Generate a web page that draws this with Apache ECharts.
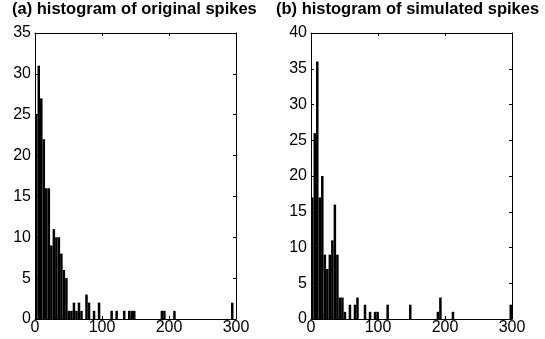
<!DOCTYPE html>
<html>
<head>
<meta charset="utf-8">
<script src="https://cdn.jsdelivr.net/npm/echarts@6/dist/echarts.min.js"></script>
<style>
html,body{margin:0;padding:0;background:#fff;}
#c{width:545px;height:339px;}
</style>
</head>
<body>
<div id="c"></div>
<script>
// ---- data ----
const BIN_WIDTH = 3.75; // histogram bin width (spike interval units)
const titles = ['(a) histogram of original spikes', '(b) histogram of simulated spikes'];
const xTicks = [0, 100, 200, 300];
const yMaxOriginal = 35;
const yMaxSimulated = 40;
const countsOriginal = [
  25,31,27,22,16,16,9,11,10,10,
  8,6,5,1,1,2,1,2,1,0,
  3,2,0,1,0,2,0,0,0,0,
  1,0,1,0,0,1,0,1,1,1,
  0,0,0,0,0,0,0,0,0,0,
  1,1,0,0,0,1,0,0,0,0,
  0,0,0,0,0,0,0,0,0,0,
  0,0,0,0,0,0,0,0,2,0
];
const countsSimulated = [
  17,26,36,17,20,9,7,9,11,16,
  9,3,3,1,0,2,0,2,3,0,
  0,2,0,1,0,1,1,0,0,0,
  2,0,0,0,0,0,0,0,0,2,
  0,0,0,0,0,0,0,0,0,0,
  1,3,0,0,0,0,1,0,0,0,
  0,0,0,0,0,0,0,0,0,0,
  0,0,0,0,0,0,0,0,0,2
];

function toBins(counts){
  const out = [];
  counts.forEach((c, i) => { if (c > 0) out.push([i * BIN_WIDTH, (i + 1) * BIN_WIDTH, c]); });
  return out;
}

function renderBar(params, api){
  const p0 = api.coord([api.value(0), api.value(2)]);
  const p1 = api.coord([api.value(1), 0]);
  return {
    type: 'rect',
    shape: { x: p0[0], y: p0[1], width: p1[0] - p0[0], height: p1[1] - p0[1] },
    style: { fill: '#000' }
  };
}

const FONT = 'Liberation Sans, Arial, sans-serif';
const axisLine = { show: true, onZero: false, lineStyle: { color: '#000', width: 1 } };
const tick = { show: true, inside: true, length: 3, lineStyle: { color: '#000' } };
const lbl = { color: '#000', fontSize: 16, fontFamily: FONT };

const grids = [
  { left: 35, top: 33, width: 201, height: 286 },
  { left: 311, top: 33, width: 201, height: 286 }
];
const yMax = [yMaxOriginal, yMaxSimulated];

const xAxes = [], yAxes = [];
grids.forEach((g, i) => {
  xAxes.push({ type: 'value', gridIndex: i, position: 'bottom', min: 0, max: 300, interval: 100,
    axisLine, axisTick: tick, splitLine: { show: false },
    axisLabel: Object.assign({ margin: 1 }, lbl) });
  xAxes.push({ type: 'value', gridIndex: i, position: 'top', min: 0, max: 300, interval: 100,
    axisLine, axisTick: tick, splitLine: { show: false }, axisLabel: { show: false } });
  yAxes.push({ type: 'value', gridIndex: i, position: 'left', min: 0, max: yMax[i], interval: 5,
    axisLine, axisTick: tick, splitLine: { show: false },
    axisLabel: Object.assign({ margin: 4 }, lbl) });
  yAxes.push({ type: 'value', gridIndex: i, position: 'right', min: 0, max: yMax[i], interval: 5,
    axisLine, axisTick: tick, splitLine: { show: false }, axisLabel: { show: false } });
});

const titleStyle = { fontSize: 16.5, fontWeight: 'bold', color: '#000', fontFamily: FONT };
const chart = echarts.init(document.getElementById('c'), null, { renderer: 'canvas' });
chart.setOption({
  animation: false,
  backgroundColor: '#fff',
  title: [
    { text: titles[0], left: 12, top: 1, padding: 0, textStyle: titleStyle },
    { text: titles[1], left: 276, top: 1, padding: 0, textStyle: titleStyle }
  ],
  grid: grids,
  xAxis: xAxes,
  yAxis: yAxes,
  series: [
    { type: 'custom', xAxisIndex: 0, yAxisIndex: 0, renderItem: renderBar,
      encode: { x: [0, 1], y: 2 }, data: toBins(countsOriginal), clip: true },
    { type: 'custom', xAxisIndex: 2, yAxisIndex: 2, renderItem: renderBar,
      encode: { x: [0, 1], y: 2 }, data: toBins(countsSimulated), clip: true }
  ]
});
</script>
</body>
</html>
